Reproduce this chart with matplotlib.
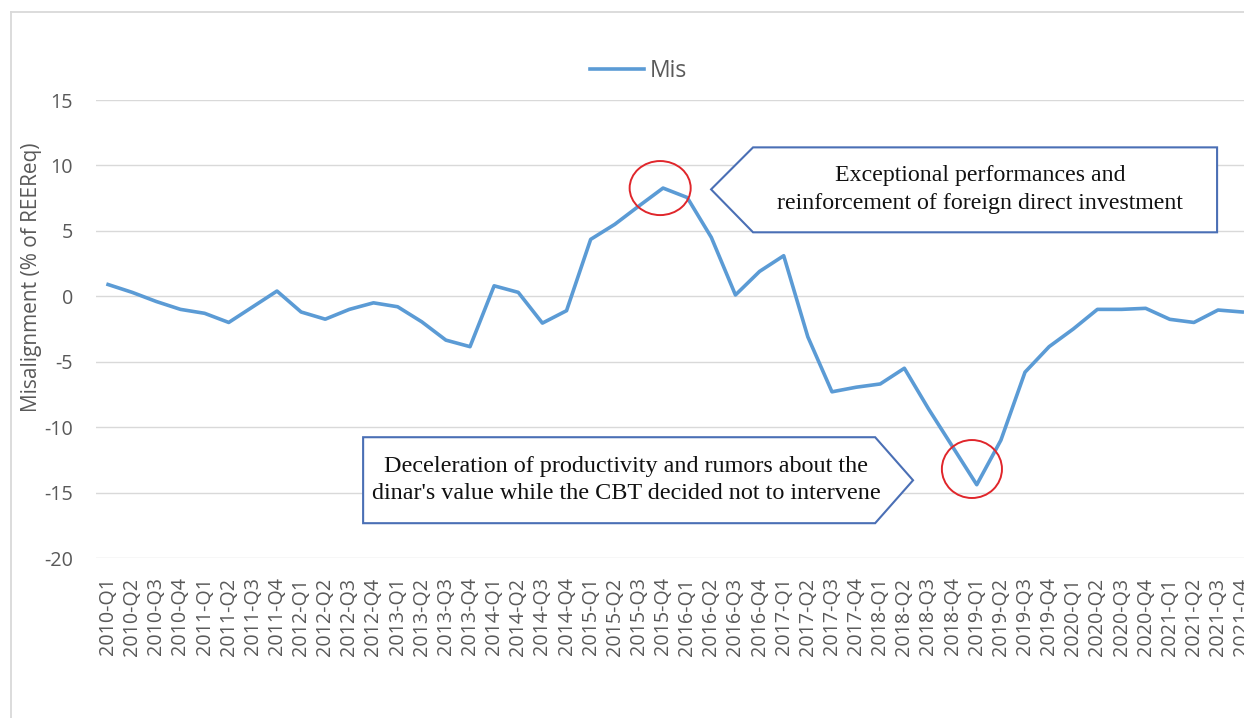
import matplotlib

matplotlib.use("Agg")
import matplotlib.pyplot as plt
from matplotlib.lines import Line2D
from matplotlib.patches import Ellipse, Polygon

plt.rcParams["axes.unicode_minus"] = False

# Quarterly misalignment of the real effective exchange rate (% of equilibrium REER)
years = range(2010, 2022)
quarters = [f"{y}-Q{q}" for y in years for q in range(1, 5)]
mis = [0.9, 0.3, -0.4, -1.0, -1.3, -2.0, -0.8, 0.4,
       -1.2, -1.75, -1.0, -0.5, -0.8, -1.95, -3.35, -3.85,
       0.8, 0.3, -2.05, -1.1, 4.35, 5.5, 6.9, 8.27,
       7.55, 4.5, 0.1, 1.9, 3.1, -3.1, -7.3, -6.95,
       -6.7, -5.5, -8.6, -11.5, -14.4, -11.0, -5.8, -3.85,
       -2.5, -1.0, -1.0, -0.92, -1.76, -2.0, -1.05, -1.2]

peak_text = "Exceptional performances and\nreinforcement of foreign direct investment"
trough_text = ("Deceleration of productivity and rumors about the\n"
               "dinar's value while the CBT decided not to intervene")

LINE = "#5b9bd5"
GRID = "#d9d9d9"
TXT = "#595959"
BOX = "#4a6fb5"
RED = "#e0262b"

W, H = 1244, 718
fig = plt.figure(figsize=(W / 100, H / 100), dpi=100)
ax = fig.add_axes([96 / W, 1 - 558 / H, 1148 / W, 458 / H])

x = list(range(len(quarters)))
ax.plot(x, mis, color=LINE, lw=2.6, solid_joinstyle="round", label="Mis", zorder=3)

ax.set_xlim(-0.5, -0.5 + 1148 / 24.13)
ax.set_ylim(-20, 15)
ax.set_yticks(range(-20, 16, 5))
ax.set_xticks(x)
ax.set_xticklabels(quarters, rotation=90, ha="center", va="top")
ax.grid(axis="y", color=GRID, lw=1.0, zorder=0)
ax.set_axisbelow(True)
for s in ax.spines.values():
    s.set_visible(False)
ax.tick_params(axis="both", length=0, colors=TXT, labelsize=14.2)
ax.tick_params(axis="y", pad=16.5)
ax.tick_params(axis="x", pad=14)
for lab in ax.get_xticklabels() + ax.get_yticklabels():
    lab.set_family("Open Sans")

fig.text(31.7 / W, 1 - 277 / H, "Misalignment (% of REEReq)", rotation=90,
         ha="center", va="center", color=TXT, fontsize=15, family="Open Sans")

leg = ax.legend(loc="center", bbox_to_anchor=(638.5 / W, 1 - 71 / H),
                bbox_transform=fig.transFigure, frameon=False, borderpad=0,
                handlelength=2.35, handletextpad=0.25,
                prop={"family": "Open Sans", "size": 16.5})
for t in leg.get_texts():
    t.set_color(TXT)

# highlight the peak and the trough
ipk = mis.index(max(mis))
itr = mis.index(min(mis))
ax.add_patch(Ellipse((ipk - 0.12, mis[ipk]), 2.53, 4.13, fill=False,
                     ec=RED, lw=1.4, zorder=4))
ax.add_patch(Ellipse((itr - 0.2, mis[itr] + 1.2), 2.49, 4.43, fill=False,
                     ec=RED, lw=1.4, zorder=4))

# callout shapes
peak_box = [(24.99, 8.17), (26.73, 11.38), (45.96, 11.38), (45.96, 4.89), (26.73, 4.89)]
trough_box = [(10.57, -10.77), (31.79, -10.77), (33.36, -14.06), (31.79, -17.34), (10.57, -17.34)]
for pts in (peak_box, trough_box):
    ax.add_patch(Polygon(pts, closed=True, fc="white", ec=BOX, lw=1.5, zorder=5))

ax.text(36.14, 8.17, peak_text, ha="center", va="center", fontsize=17.2,
        family="Liberation Serif", color="#111111", linespacing=1.4, zorder=6)
ax.text(21.47, -14.06, trough_text, ha="center", va="center", fontsize=17.4,
        family="Liberation Serif", color="#111111", linespacing=1.4, zorder=6)

# chart area border
fig.add_artist(Line2D([11 / W, 11 / W], [0, 1 - 12 / H], color="#d9d9d9", lw=1.3))
fig.add_artist(Line2D([11 / W, 1], [1 - 12 / H, 1 - 12 / H], color="#d9d9d9", lw=1.3))

fig.savefig("out.png", dpi=100)
